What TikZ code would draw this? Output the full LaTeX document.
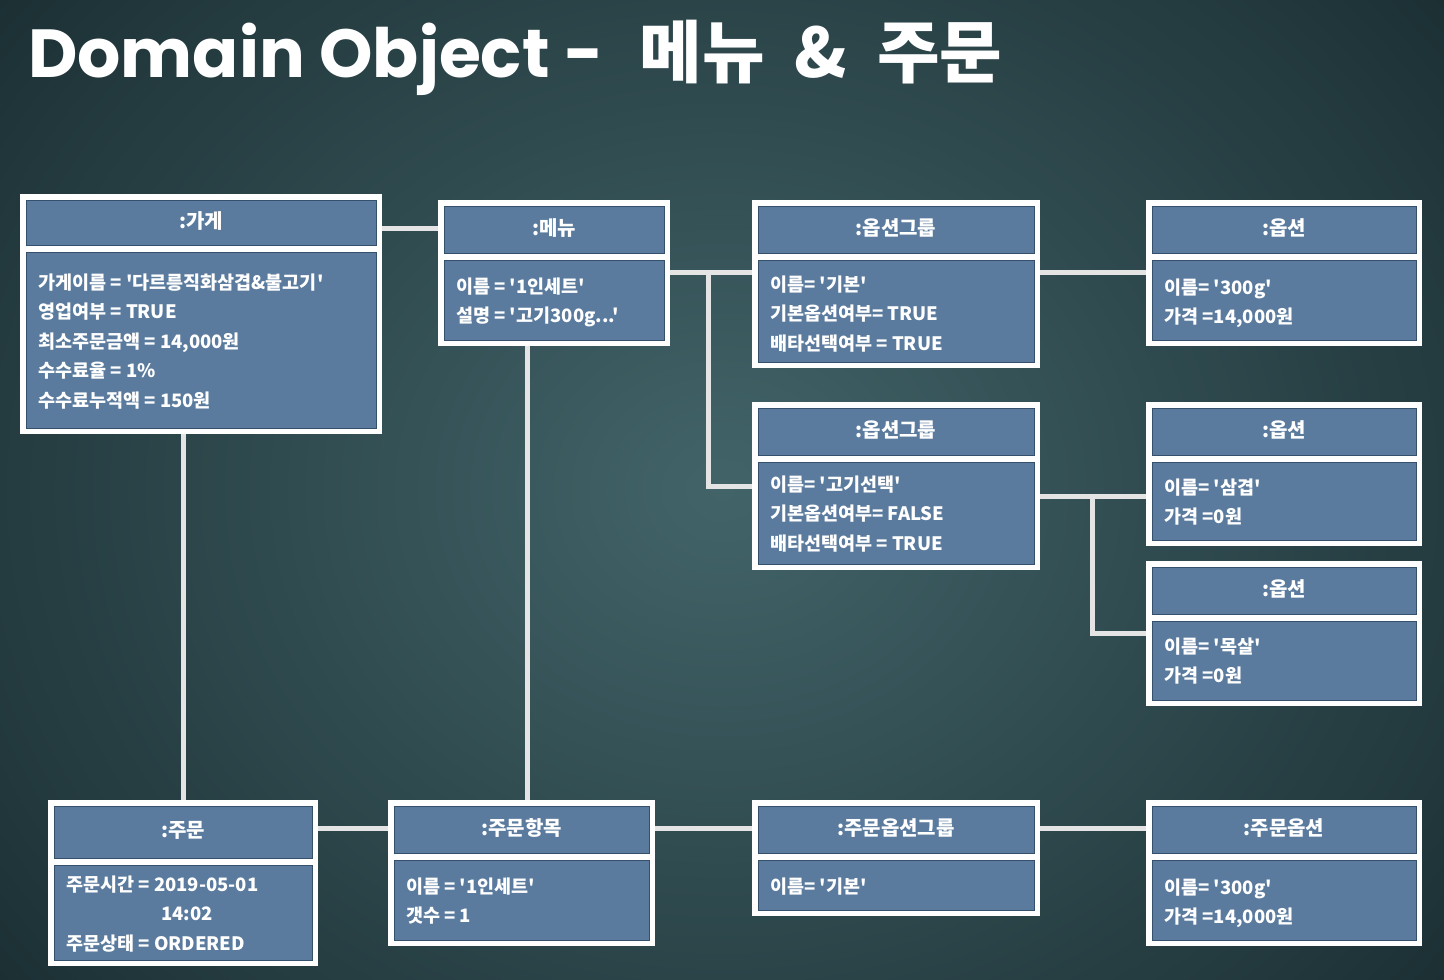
\documentclass[tikz,border=0pt]{standalone}
\usepackage{fontspec}
\newfontfamily\kr{Noto Sans CJK KR}[Ligatures=TeXOff]
\newfontfamily\pop{Poppins}
\usetikzlibrary{fit}
\definecolor{boxblue}{HTML}{5A7B9E}
\definecolor{boxedge}{HTML}{34506C}
\definecolor{bgin}{HTML}{426469}
\definecolor{bgout}{HTML}{1C3034}
\definecolor{linkc}{HTML}{E4E4E4}
\tikzset{
  conn/.style={draw=linkc, line width=5pt},
  part/.style={fill=boxblue, draw=boxedge, line width=1pt},
  headtxt/.style={text=white, font=\kr\bfseries\fontsize{20}{22}\selectfont, inner sep=0},
  bodytxt/.style={text=white, font=\kr\bfseries\fontsize{18.5}{29.5}\selectfont, inner sep=0, anchor=base west},
  fitbox/.style={inner sep=0, draw=none},
  titletxt/.style={text=white, inner sep=0, anchor=base west}
}
% name, x1, y1, x2, y2, ysep, title, body, first-baseline offset
\newcommand{\objbox}[9]{%
  \fill[white] (#2,#3) rectangle (#4,#5);
  \filldraw[part] (#2+6,#3+6) rectangle (#4-6,#6-3);
  \filldraw[part] (#2+6,#6+4) rectangle (#4-6,#5-6);
  \node[fitbox, fit={(#2,#3) (#4,#5)}] (#1) {};
  \node[fitbox, fit={(#2,#3) (#4,#6)}] (#1h) {};
  \node[headtxt] (#1t) at (#1h.center) {#7};
  \node[bodytxt] (#1b) at (#2+18,#6+#9) {\begin{tabular}[t]{@{}l@{}}#8\end{tabular}};
}
\begin{document}
\begin{tikzpicture}[x=1pt,y=-1pt]
\useasboundingbox (0,0) rectangle (1444,980);
\shade[inner color=bgin, outer color=bgout] (-200,-300) rectangle (1644,1280);

\node[titletxt] (title) at (28,77) {{\pop\fontseries{sb}\selectfont\fontsize{68}{72}\selectfont Domain Object -}\hspace{36pt}{\kr\bfseries\fontsize{68}{72}\selectfont 메뉴\hspace{30pt}\&\hspace{30pt}주문}};

\coordinate (j1) at (708,272);
\coordinate (j2) at (1092,496);

\objbox{gage}{20}{194}{382}{434}{248}{:가게}{가게이름 = '다르릉직화삼겹\&불고기'\\영업여부 = TRUE\\최소주문금액 = 14,000원\\수수료율 = 1\%\\수수료누적액 = 150원}{41}
\objbox{menu}{438}{200}{670}{346}{256}{:메뉴}{이름 = '1인세트'\\설명 = '고기300g...'}{37}
\objbox{og1}{752}{200}{1040}{368}{256}{:옵션그룹}{이름= '기본'\\기본옵션여부= TRUE\\배타선택여부 = TRUE}{35}
\objbox{og2}{752}{402}{1040}{570}{458}{:옵션그룹}{이름= '고기선택'\\기본옵션여부= FALSE\\배타선택여부 = TRUE}{33}
\objbox{opt1}{1146}{200}{1422}{346}{256}{:옵션}{이름= '300g'\\가격 =14,000원}{38}
\objbox{opt2}{1146}{402}{1422}{546}{458}{:옵션}{이름= '삼겹'\\가격 =0원}{36}
\objbox{opt3}{1146}{561}{1422}{706}{617}{:옵션}{이름= '목살'\\가격 =0원}{36}
\objbox{order}{48}{800}{318}{966}{861}{:주문}{주문시간 = 2019-05-01\\\hspace{95pt}14:02\\주문상태 = ORDERED}{30}
\objbox{item}{388}{800}{655}{946}{856}{:주문항목}{이름 = '1인세트'\\갯수 = 1}{37}
\objbox{ogrp}{752}{800}{1040}{916}{856}{:주문옵션그룹}{이름= '기본'}{37}
\objbox{oopt}{1146}{800}{1422}{946}{856}{:주문옵션}{이름= '300g'\\가격 =14,000원}{38}

\draw[conn] (gage.east |- menuh.center) -- (menu.west |- menuh.center);
\draw[conn] (order.north) -- (order.north |- gage.south);
\draw[conn] ([xshift=6pt]item.north) -- ([xshift=6pt]item.north |- menu.south);
\draw[conn] (menu.east |- j1) -- (og1.west |- j1);
\draw[conn] (j1) |- (og2.west);
\draw[conn] (og1.east |- j1) -- (opt1.west |- j1);
\draw[conn] (og2.east |- j2) -- (opt2.west |- j2);
\draw[conn] (j2) |- (opt3.west);
\draw[conn] (order.east |- itemh.center) -- (itemh.west);
\draw[conn] (itemh.east) -- (ogrph.west);
\draw[conn] (ogrph.east) -- (oopth.west);
\end{tikzpicture}
\end{document}
